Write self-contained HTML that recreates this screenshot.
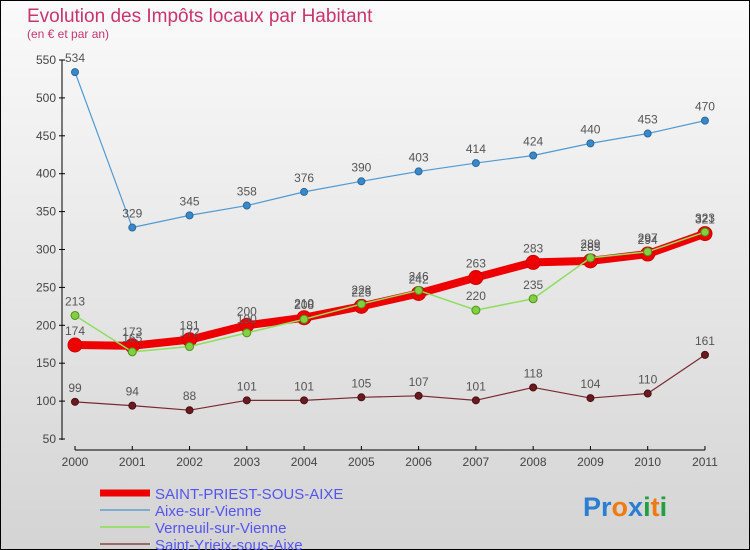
<!DOCTYPE html>
<html><head><meta charset="utf-8"><style>
body{margin:0;width:750px;height:550px;overflow:hidden;font-family:"Liberation Sans",sans-serif}
#c{position:absolute;left:0;top:0;width:748px;height:548px;border:1px solid #000;background:linear-gradient(#fafafa,#d4d4d4)}
</style></head><body>
<div id="c">
<svg id="s" width="750" height="550" style="position:absolute;left:-1px;top:-1px">
<text x="27" y="22" font-size="19" fill="#c8356b">Evolution des Impôts locaux par Habitant</text>
<text x="27" y="38" font-size="12" fill="#c8356b">(en € et par an)</text>
<g id="axes"></g><g id="series"></g><g id="legend"></g>
<text x="583" y="516" font-size="27" font-weight="bold"><tspan fill="#2a7fd0">Pr</tspan><tspan fill="#f07a10">o</tspan><tspan fill="#2a7fd0">x</tspan><tspan fill="#20a040">i</tspan><tspan fill="#f07a10">t</tspan><tspan fill="#20a040">i</tspan></text>
</svg></div>
<script>
const years=[2000,2001,2002,2003,2004,2005,2006,2007,2008,2009,2010,2011];
const yTicks=[50,100,150,200,250,300,350,400,450,500,550];
const priest=[174,173,181,200,210,225,242,263,283,285,294,321];
const aixe=[534,329,345,358,376,390,403,414,424,440,453,470];
const verneuil=[213,165,172,190,208,228,246,220,235,289,297,323];
const yrieix=[99,94,88,101,101,105,107,101,118,104,110,161];
const NS="http://www.w3.org/2000/svg";
const X=i=>75+i*57.27, Y=v=>439-(v-50)*0.758;
function mk(p,t,a){const e=document.createElementNS(NS,t);for(const k in a)e.setAttribute(k,a[k]);p.appendChild(e);return e;}
const ax=document.getElementById('axes');
const yl=mk(ax,'line',{x1:62,y1:60,x2:62,y2:440,stroke:'#000'});


yTicks.forEach(v=>{mk(ax,'line',{x1:59,x2:65,y1:Y(v),y2:Y(v),stroke:'#000'});
const t=mk(ax,'text',{x:56,y:Y(v)+4,'font-size':12,'text-anchor':'end',fill:'#444'});t.textContent=v;

});
const xl=mk(ax,'line',{x1:75,y1:450,x2:705,y2:450,stroke:'#000'});


years.forEach((yr,i)=>{mk(ax,'line',{x1:X(i),x2:X(i),y1:446,y2:450,stroke:'#000'});
const t=mk(ax,'text',{x:X(i),y:466,'font-size':12,'text-anchor':'middle',fill:'#444'});t.textContent=yr;

});
const sg=document.getElementById('series');
function series(d,name,col,w,r,dot,dotStroke){
const g=mk(sg,'g',{});


mk(g,'polyline',{points:d.map((v,i)=>X(i)+','+Y(v)).join(' '),fill:'none',stroke:col,'stroke-width':w,'stroke-linejoin':'round'});
d.forEach((v,i)=>{const c=mk(g,'circle',{cx:X(i),cy:Y(v),r:r,fill:dot,stroke:dotStroke,'stroke-width':1});


const t=mk(g,'text',{x:X(i),y:Y(v)-10,'font-size':12,'text-anchor':'middle',fill:'#555'});t.textContent=v;

});}
series(aixe,'series-aixe','#4f9ad4',1.2,3.5,'#3a88cc','#2a6a9a');
series(yrieix,'series-yrieix','#7a2a30',1.2,3.5,'#6a1a20','#4a1010');
series(priest,'series-priest','#ee0000',8,7,'#ee0000','#cc0000');
series(verneuil,'series-verneuil','#90dd60',1.5,4,'#80d040','#509020');
const lg=document.getElementById('legend');
[['SAINT-PRIEST-SOUS-AIXE','#ee0000',7],['Aixe-sur-Vienne','#80acd0',2],['Verneuil-sur-Vienne','#9ede70',2],['Saint-Yrieix-sous-Aixe','#9a6a6a',2]].forEach((l,i)=>{
const y=493+i*17;const g=mk(lg,'g',{});


mk(g,'line',{x1:100,x2:150,y1:y,y2:y,stroke:l[1],'stroke-width':l[2]});
const t=mk(g,'text',{x:155,y:y+6,'font-size':15,fill:'#5555ee'});t.textContent=l[0];});
</script></body></html>
